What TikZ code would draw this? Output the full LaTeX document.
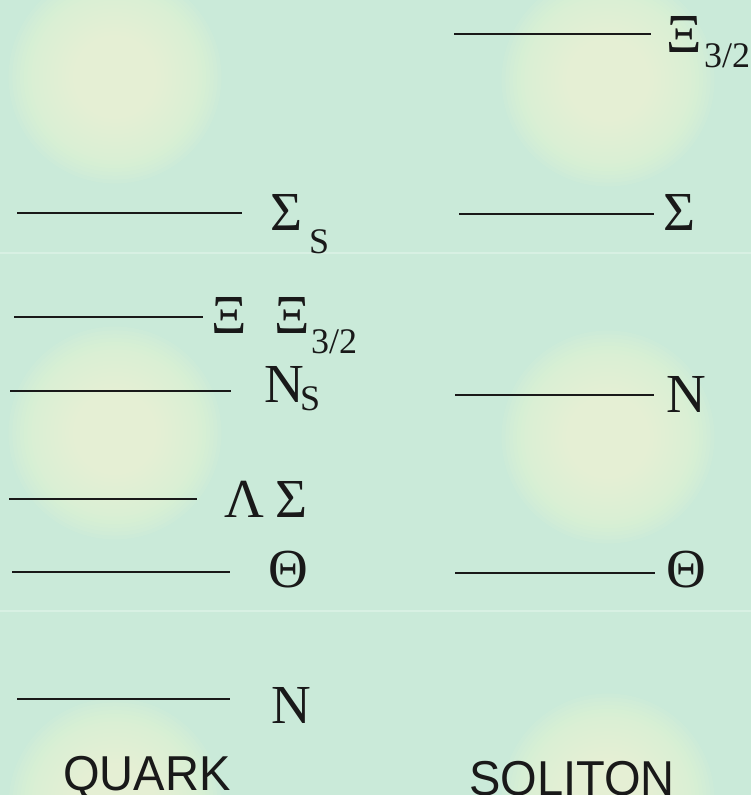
\documentclass[tikz,border=0pt]{standalone}
\usepackage{fontspec}
\setmainfont{Liberation Serif}
\newfontfamily\sansf[FakeStretch=0.96]{Liberation Sans}
\definecolor{bgc}{RGB}{202,234,217}
\definecolor{glowc}{RGB}{240,250,212}
\definecolor{sepc}{RGB}{216,240,227}
\definecolor{inkc}{RGB}{25,25,25}
\begin{document}
\begin{tikzpicture}[x=1pt,y=-1pt,
  level/.style={line width=2pt, draw=inkc},
  glowring/.style={fill=glowc, opacity=0.09},
  lab/.style={anchor=base west, inner sep=0pt, text=inkc, font=\fontsize{55}{60}\selectfont},
  sublab/.style={anchor=base west, inner sep=0pt, text=inkc, font=\fontsize{36}{40}\selectfont},
  caplab/.style={anchor=base west, inner sep=0pt, text=inkc, font=\sansf\fontsize{49}{55}\selectfont}]
\fill[bgc] (0,0) rectangle (751,795);
\useasboundingbox (0,0) rectangle (751,795);
\foreach \cx/\cy in {115/77, 608/80, 115/433, 608/437, 115/805, 608/800}
  \foreach \i in {1,...,28}
    \fill[glowring] (\cx,\cy) circle ({3.8*\i pt});
\draw[sepc, line width=2pt] (0,253) -- (751,253);
\draw[sepc, line width=2pt] (0,611) -- (751,611);
% right column levels
\draw[level] (454,34) -- (651,34);
\draw[level] (459,214) -- (654,214);
\draw[level] (455,395) -- (654,395);
\draw[level] (455,573) -- (655,573);
% left column levels
\draw[level] (17,213) -- (242,213);
\draw[level] (14,317) -- (203,317);
\draw[level] (10,391) -- (231,391);
\draw[level] (9,499) -- (197,499);
\draw[level] (12,572) -- (230,572);
\draw[level] (17,699) -- (230,699);
% right labels
\node[lab] (xiR) at (666,52) {Ξ};
\node[sublab] (xiRs) at (704,67) {3/2};
\node[lab] (sigR) at (663,230) {Σ};
\node[lab] (nR) at (666,412) {N};
\node[lab] (thR) at (666,587) {Θ};
% left labels
\node[lab] (sigL) at (270,230) {Σ};
\node[sublab] (sigLs) at (309,253) {S};
\node[lab] (xiL) at (211,333) {Ξ};
\node[lab] (xiL2) at (274,333) {Ξ};
\node[sublab] (xiL2s) at (311,353) {3/2};
\node[lab] (nL) at (264,402) {N};
\node[sublab] (nLs) at (300,410) {S};
\node[lab] (lamL) at (224,517) {Λ};
\node[lab] (sigL2) at (275,517) {Σ};
\node[lab] (thL) at (268,587) {Θ};
\node[lab] (nL2) at (271,723) {N};
% captions
\node[caplab] (quark) at (63,790) {QUARK};
\node[caplab] (soliton) at (469,795) {SOLITON};
\end{tikzpicture}
\end{document}
